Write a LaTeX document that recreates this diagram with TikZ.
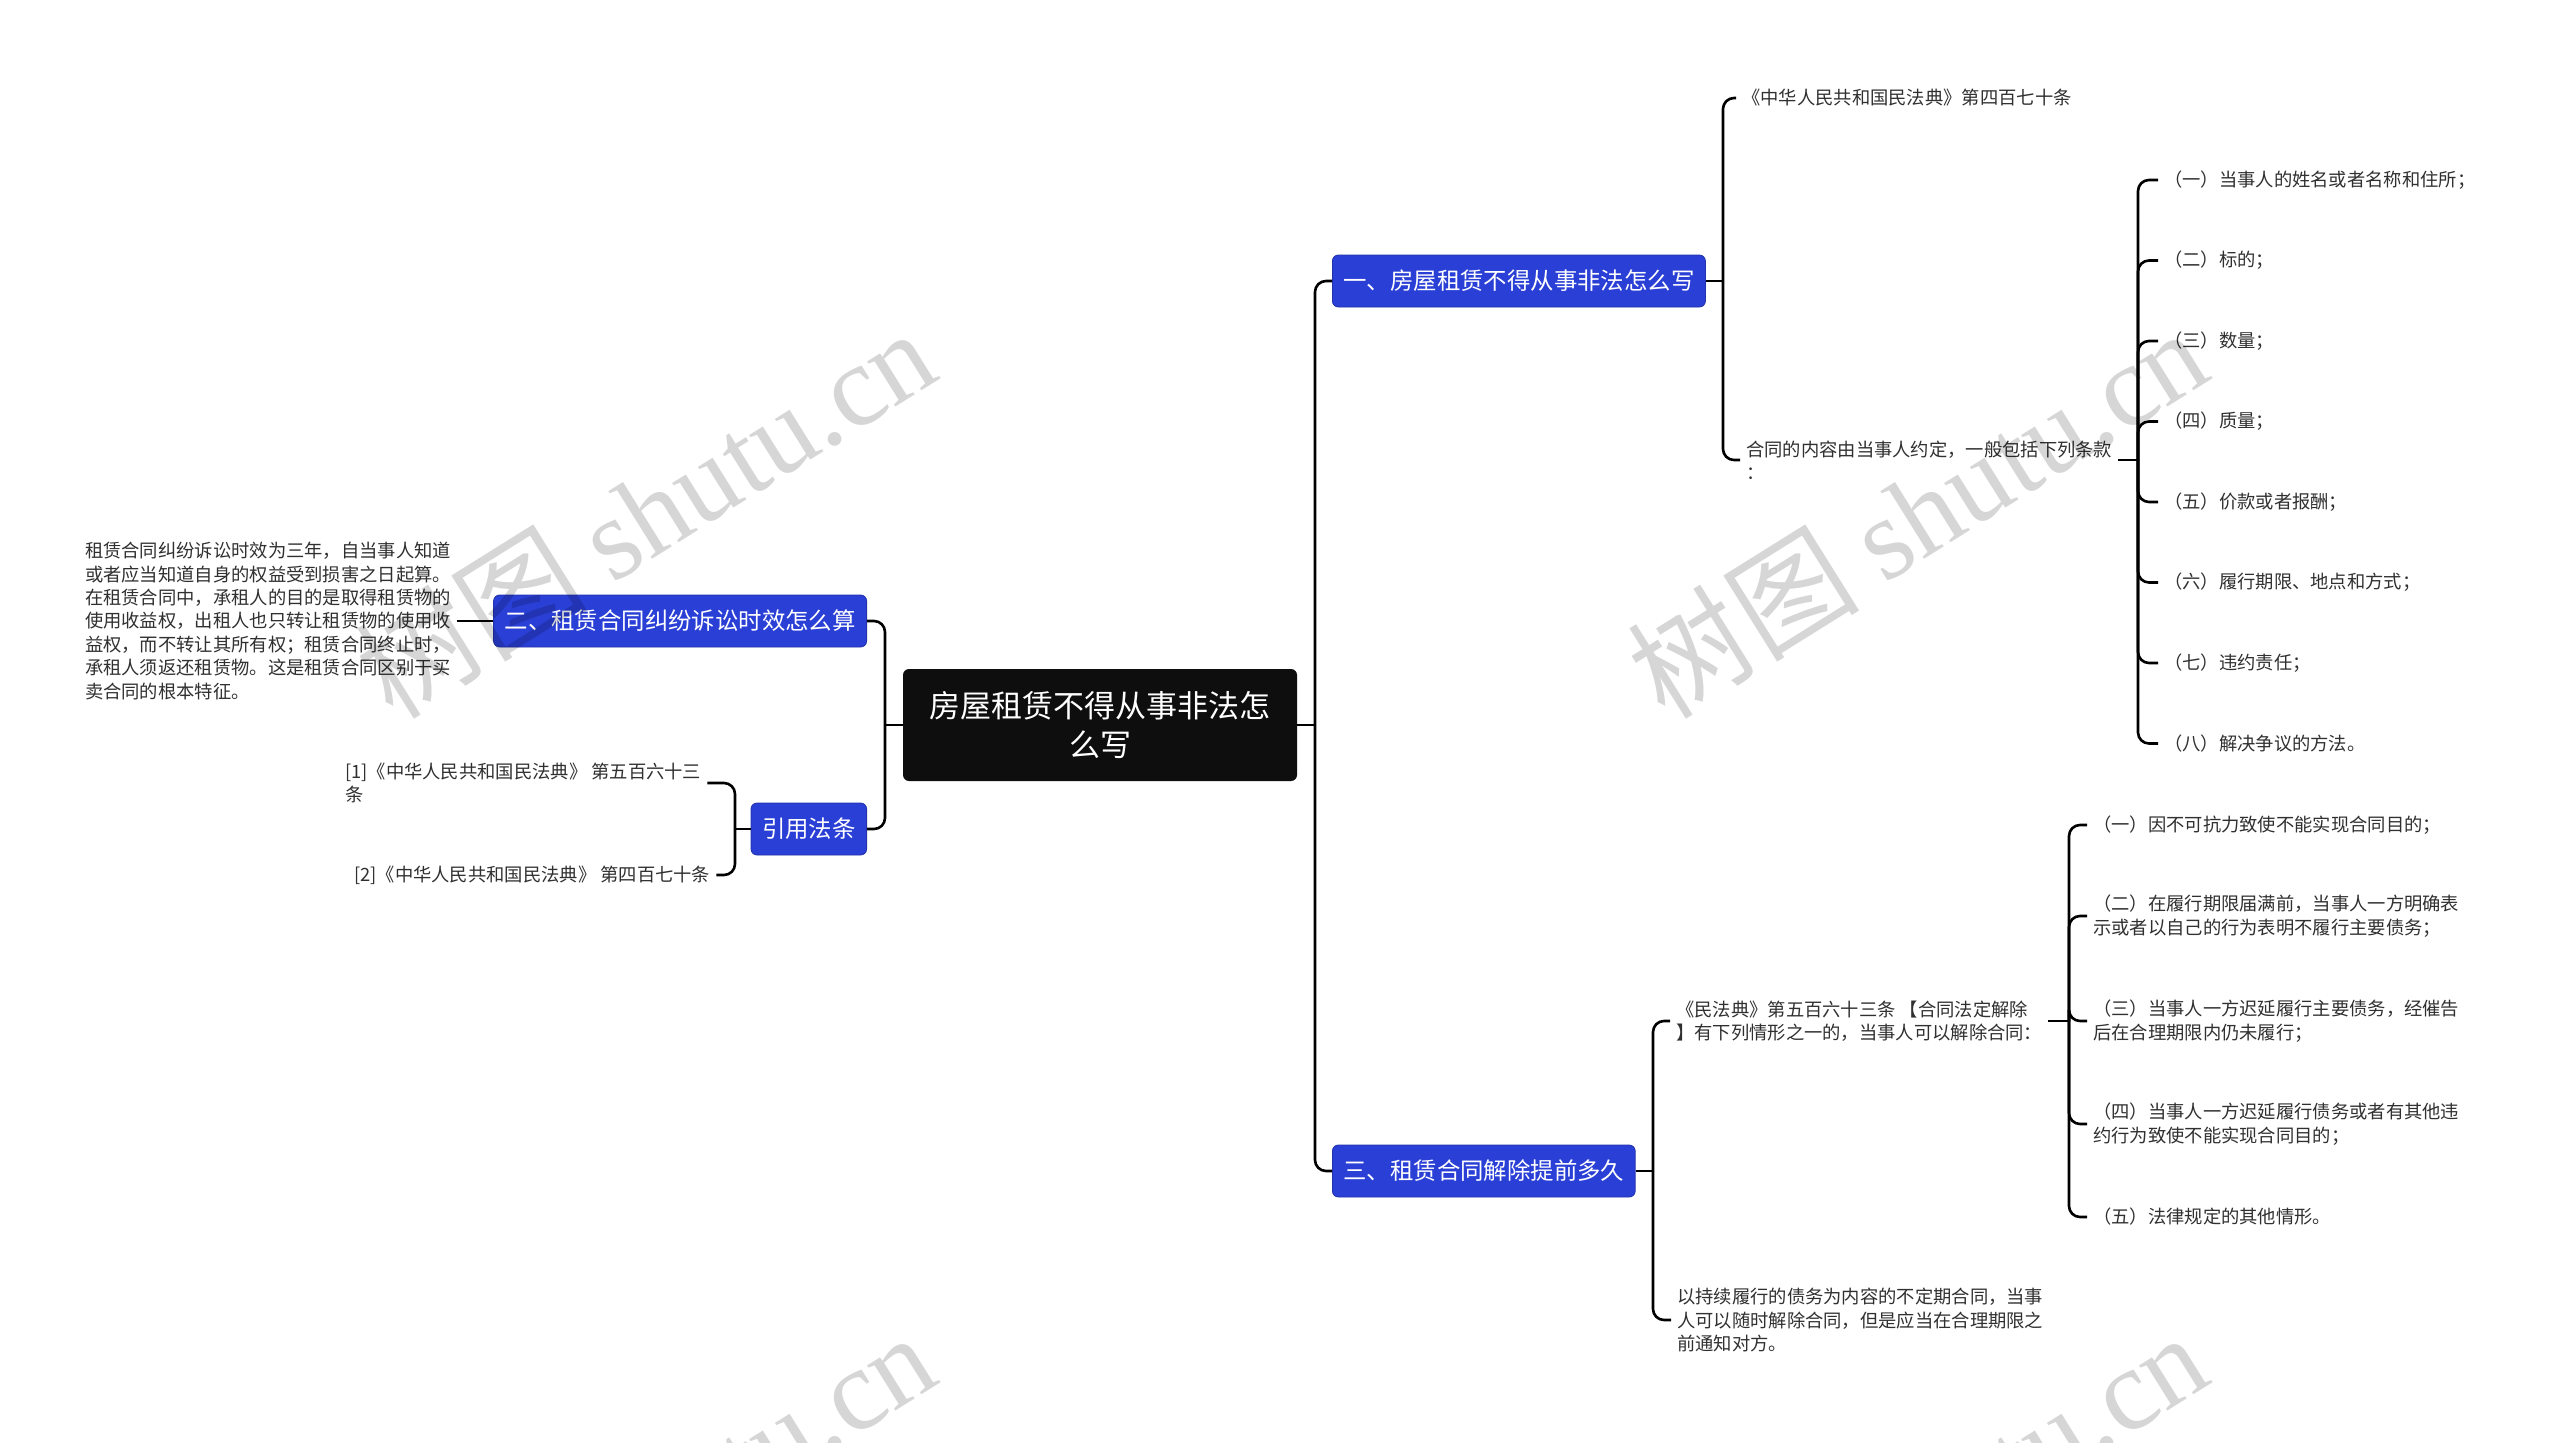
\documentclass[tikz,border=0pt]{standalone}
\usepackage{fontspec}
\setmainfont{Noto Sans CJK SC}
\newfontfamily\wmserif{Liberation Serif}
\usepackage{xcolor}
\usepackage{tikz}
\usetikzlibrary{positioning}
\definecolor{topicblue}{RGB}{41,63,214}
\definecolor{rootblack}{RGB}{14,14,14}
\definecolor{leafgray}{RGB}{48,48,48}
\newcommand{\fs}[2]{\fontsize{#1pt}{#2pt}\selectfont}

\begin{document}
\begin{tikzpicture}[x=1pt,y=-1pt]
\tikzset{link/.style={draw=black,line width=2.6pt},
  elbow/.style={link,rounded corners=11pt},
  rootbox/.style={fill=rootblack,rounded corners=6pt,text=white,minimum width=394pt,minimum height=112pt,align=center,font=\fs{31}{39}},
  topic/.style={fill=topicblue,draw=topicblue!80!black,line width=0.8pt,rounded corners=6pt,text=white,minimum height=52pt,inner xsep=11pt,font=\fs{23.4}{30}},
  leaf/.style={text=leafgray,align=left,inner xsep=6pt,inner ysep=0pt,font=\fs{18.3}{23.4}},
  wmark/.style={text=black,opacity=0.16,rotate=32,font=\fs{116}{116}}}
\fill[white] (0,0) rectangle (2560,1443);
\useasboundingbox (0,0) rectangle (2560,1443);
\node[rootbox] (root) at (1100,725) {房屋租赁不得从事非法怎\\么写};
\node[topic,anchor=west] (one) at (1332,281) {一、房屋租赁不得从事非法怎么写};
\node[topic,anchor=west] (three) at (1332,1171) {三、租赁合同解除提前多久};
\node[topic,anchor=east] (two) at (867,621) {二、租赁合同纠纷诉讼时效怎么算};
\node[topic,anchor=east] (cite) at (867,829) {引用法条};
\node[leaf,left=36pt of two] (twotext) {租赁合同纠纷诉讼时效为三年，自当事人知道\\或者应当知道自身的权益受到损害之日起算。\\在租赁合同中，承租人的目的是取得租赁物的\\使用收益权，出租人也只转让租赁物的使用收\\益权，而不转让其所有权；租赁合同终止时，\\承租人须返还租赁物。这是租赁合同区别于买\\卖合同的根本特征。};
\node[leaf,anchor=west] (citea) at (339,783) {[1]《中华人民共和国民法典》 第五百六十三\\条};
\node[leaf,anchor=west] (citeb) at (348,875) {[2]《中华人民共和国民法典》 第四百七十条};
\node[leaf,anchor=west] (onea) at (1736,98) {《中华人民共和国民法典》第四百七十条};
\node[leaf,anchor=west] (oneb) at (1740,460) {合同的内容由当事人约定，一般包括下列条款\\：};
\node[leaf,anchor=west] (termi) at (2158,180) {（一）当事人的姓名或者名称和住所；};
\node[leaf,anchor=west] (termii) at (2158,260.5) {（二）标的；};
\node[leaf,anchor=west] (termiii) at (2158,341) {（三）数量；};
\node[leaf,anchor=west] (termiv) at (2158,421.5) {（四）质量；};
\node[leaf,anchor=west] (termv) at (2158,502) {（五）价款或者报酬；};
\node[leaf,anchor=west] (termvi) at (2158,582.5) {（六）履行期限、地点和方式；};
\node[leaf,anchor=west] (termvii) at (2158,663) {（七）违约责任；};
\node[leaf,anchor=west] (termviii) at (2158,743.5) {（八）解决争议的方法。};
\node[leaf,anchor=west] (threea) at (1670,1021) {《民法典》第五百六十三条 【合同法定解除\\】有下列情形之一的，当事人可以解除合同：};
\node[leaf,anchor=west] (threeb) at (1671,1320) {以持续履行的债务为内容的不定期合同，当事\\人可以随时解除合同，但是应当在合理期限之\\前通知对方。};
\node[leaf,anchor=west] (endi) at (2087,825) {（一）因不可抗力致使不能实现合同目的；};
\node[leaf,anchor=west] (endii) at (2087,916) {（二）在履行期限届满前，当事人一方明确表\\示或者以自己的行为表明不履行主要债务；};
\node[leaf,anchor=west] (endiii) at (2087,1021) {（三）当事人一方迟延履行主要债务，经催告\\后在合理期限内仍未履行；};
\node[leaf,anchor=west] (endiv) at (2087,1124) {（四）当事人一方迟延履行债务或者有其他违\\约行为致使不能实现合同目的；};
\node[leaf,anchor=west] (endv) at (2087,1217) {（五）法律规定的其他情形。};
\coordinate (rtrunk) at (1315,725);
\coordinate (ltrunk) at (885,725);
\coordinate (citetrunk) at (735,829);
\coordinate (onetrunk) at (1723,281);
\coordinate (obtrunk) at (2138,460);
\coordinate (threetrunk) at (1653,1171);
\coordinate (tatrunk) at (2069,1021);
\draw[link] (root.east) -- (rtrunk);
\draw[elbow] (rtrunk) |- (one.west);
\draw[elbow] (rtrunk) |- (three.west);
\draw[link] (root.west) -- (ltrunk);
\draw[elbow] (ltrunk) |- (two.east);
\draw[elbow] (ltrunk) |- (cite.east);
\draw[link] (twotext) -- (two);
\draw[link] (cite.west) -- (citetrunk);
\draw[elbow] (citetrunk) |- (citea.east);
\draw[elbow] (citetrunk) |- (citeb.east);
\draw[link] (one.east) -- (onetrunk);
\draw[elbow] (onetrunk) |- (onea.west);
\draw[elbow] (onetrunk) |- (oneb.west);
\draw[link] (oneb.east) -- (obtrunk);
\draw[elbow] (obtrunk) |- (termi.west);
\draw[elbow] (obtrunk) |- (termii.west);
\draw[elbow] (obtrunk) |- (termiii.west);
\draw[elbow] (obtrunk) |- (termiv.west);
\draw[elbow] (obtrunk) |- (termv.west);
\draw[elbow] (obtrunk) |- (termvi.west);
\draw[elbow] (obtrunk) |- (termvii.west);
\draw[elbow] (obtrunk) |- (termviii.west);
\draw[link] (three.east) -- (threetrunk);
\draw[elbow] (threetrunk) |- (threea.west);
\draw[elbow] (threetrunk) |- (threeb.west);
\draw[link] (threea.east) -- (tatrunk);
\draw[elbow] (tatrunk) |- (endi.west);
\draw[elbow] (tatrunk) |- (endii.west);
\draw[elbow] (tatrunk) |- (endiii.west);
\draw[elbow] (tatrunk) |- (endiv.west);
\draw[elbow] (tatrunk) |- (endv.west);
\begin{scope}
\clip (0,0) rectangle (2560,1443);
\node[wmark] (wma) at (645,512) {树图 {\wmserif shutu.cn}};
\node[wmark] (wmb) at (1917,512) {树图 {\wmserif shutu.cn}};
\node[wmark] (wmc) at (645,1516) {树图 {\wmserif shutu.cn}};
\node[wmark] (wmd) at (1917,1516) {树图 {\wmserif shutu.cn}};
\end{scope}
\end{tikzpicture}
\end{document}
